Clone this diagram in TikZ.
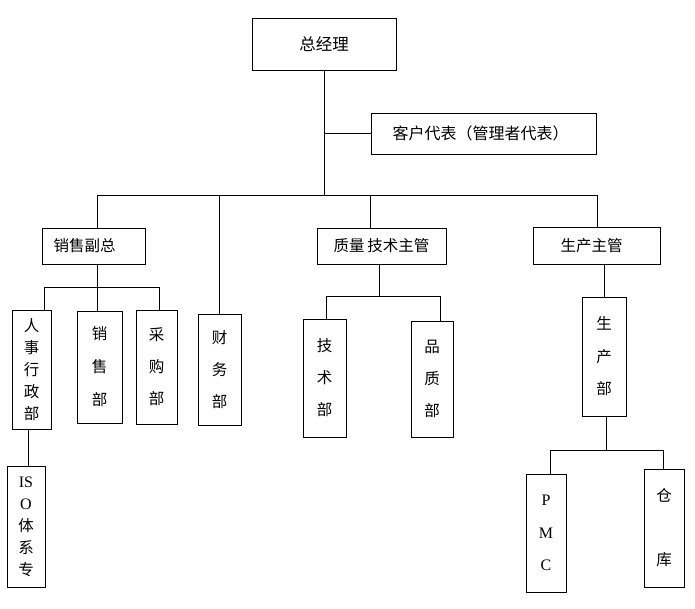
\documentclass[tikz,border=0pt]{standalone}
\usepackage{fontspec}
\setmainfont{Liberation Serif}
\newfontfamily\cjk{Noto Sans CJK SC}
\usetikzlibrary{calc}

\begin{document}
\begin{tikzpicture}[
  x=1pt, y=-1pt,
  box/.style ={draw,rectangle,line width=0.9pt,inner sep=0pt,align=center},
  hb/.style  ={box,font=\cjk\fontsize{15.5}{18}\selectfont},
  col/.style ={box,font={\cjk\fontsize{15.5}{#1}\selectfont}},
  ln/.style  ={draw,line width=0.9pt},
]
\useasboundingbox (0,0) rectangle (695,608);

% ----------------------------------------------------------- top level
\node[hb,minimum width=144pt,minimum height=52pt,font=\cjk\fontsize{16.5}{18}\selectfont] (gm) at (324,44) {总经理};
\node[hb,minimum width=225pt,minimum height=41pt,font=\cjk\fontsize{16}{18}\selectfont] (kd) at (483.5,133.5) {客户代表（管理者代表）\hspace{6pt}};
\coordinate (t0) at (324,195);
\draw[ln] (gm.south) -- (t0);
\draw[ln] (gm.south |- kd.west) -- (kd.west);

% ----------------------------------------------------------- second level
\node[hb,minimum width=103pt,minimum height=36pt] (xs) at (93.5,246) {销售副总\hspace{18pt}};
\node[col=32pt,minimum width=43pt,minimum height=111pt] (cw) at (219.5,369.5) {财\\务\\部};
\node[hb,minimum width=129pt,minimum height=36pt] (zl) at (381.5,246) {质量\,技术主管};
\node[hb,minimum width=127pt,minimum height=37pt] (sc) at (596.5,245.5) {生产主管\hspace{10pt}};

\coordinate (t1) at (97,195);
\coordinate (t2) at (219,195);
\coordinate (t3) at (370,195);
\coordinate (t4) at (597,195);
\draw[ln] (t1) -- (t4);
\foreach \t/\n in {t1/xs, t2/cw, t3/zl, t4/sc} {
  \draw[ln] (\t) -- (\t |- \n.north);
}

% ----------------------------------------------------------- sales branch
\node[col=22pt,minimum width=39pt,minimum height=119pt] (hr) at (31.5,369.5) {人\\事\\行\\政\\部};
\node[col=33pt,minimum width=45pt,minimum height=112pt] (xsb) at (99.5,367) {销\\售\\部};
\node[col=32pt,minimum width=41pt,minimum height=114pt] (cg) at (156.5,367) {采\\购\\部};
\coordinate (s1) at (44,287);
\coordinate (s2) at (97,287);
\coordinate (s3) at (159,287);
\draw[ln] (s2 |- xs.south) -- (s2);
\draw[ln] (s1) -- (s3);
\foreach \s/\n in {s1/hr, s2/xsb, s3/cg} {
  \draw[ln] (\s) -- (\s |- \n.north);
}

\node[col=22pt,minimum width=38pt,minimum height=121pt] (iso) at (26,526.5)
  {{\rmfamily\fontsize{16}{22}\selectfont IS}\\{\rmfamily\fontsize{16}{22}\selectfont O}\\体\\系\\专};
\coordinate (i0) at (28,466);
\draw[ln] (i0) -- (i0 |- hr.south);

% ----------------------------------------------------------- quality branch
\node[col=32pt,minimum width=43pt,minimum height=118pt] (js) at (324.5,378) {技\\术\\部};
\node[col=32pt,minimum width=42pt,minimum height=116pt] (pz) at (432,379) {品\\质\\部};
\coordinate (q0) at (379,296);
\coordinate (q1) at (326,296);
\coordinate (q2) at (440,296);
\draw[ln] (q0 |- zl.south) -- (q0);
\draw[ln] (q1) -- (q2);
\foreach \q/\n in {q1/js, q2/pz} {
  \draw[ln] (\q) -- (\q |- \n.north);
}

% ----------------------------------------------------------- production branch
\node[col=32.5pt,minimum width=44pt,minimum height=119pt] (scb) at (604,356.5) {生\\产\\部};
\draw[ln] (scb.north |- sc.south) -- (scb.north);
\node[col=32.5pt,minimum width=40pt,minimum height=118pt,font=\rmfamily\fontsize{16}{32.5}\selectfont] (pmc) at (546,533) {P\\M\\C};
\node[col=64pt,minimum width=40pt,minimum height=118pt] (ck) at (664,528) {仓\\库};
\coordinate (p0) at (606,450);
\coordinate (p1) at (550,450);
\coordinate (p2) at (663,450);
\draw[ln] (p0 |- scb.south) -- (p0);
\draw[ln] (p1) -- (p2);
\foreach \p/\n in {p1/pmc, p2/ck} {
  \draw[ln] (\p) -- (\p |- \n.north);
}

\end{tikzpicture}
\end{document}
